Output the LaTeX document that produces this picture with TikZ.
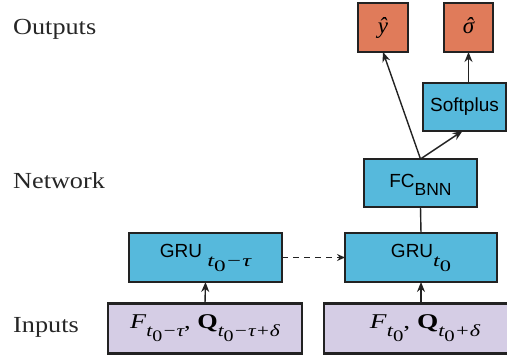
\documentclass[tikz,border=0pt]{standalone}
\usepackage{fontspec}
\setmainfont{Liberation Serif}
\setsansfont{Liberation Sans}
\usetikzlibrary{arrows.meta}
\newcommand{\mysub}[2]{\raisebox{-#1}{\fontsize{17}{17}\selectfont\rmfamily\itshape #2}}
\newcommand{\myzero}{\raisebox{-5pt}{\fontsize{16}{16}\selectfont\upshape 0}}
\newcommand{\sighat}{\ooalign{\hfil σ\hfil\cr\hfil\kern1.5pt ˆ\hfil\cr}}
\definecolor{bluebox}{HTML}{56B9DC}
\definecolor{orangebox}{HTML}{E07B5A}
\definecolor{lavbox}{HTML}{D5CDE5}
\definecolor{edge}{HTML}{222222}
\begin{document}
\begin{tikzpicture}[x=1pt,y=-1pt,
  box/.style={draw=edge,line width=2.6pt,inner sep=0pt,outer sep=0pt,text=black},
  netbox/.style={box,fill=bluebox,font=\sffamily\fontsize{19}{19}\selectfont},
  lowtext/.style={text height=14pt,text depth=14pt},
  outbox/.style={box,fill=orangebox,font=\fontsize{23}{23}\selectfont\itshape},
  inbox/.style={box,fill=lavbox,lowtext,font=\fontsize{21}{21}\selectfont},
  rowlabel/.style={anchor=base west,inner sep=0pt,text=black!85,font=\fontsize{23}{23}\selectfont},
  arr/.style={draw=edge,line width=1.4pt,-{Stealth[length=10pt,width=8pt]}},
  darr/.style={arr,dashed,dash pattern=on 6pt off 5pt,-{Stealth[length=8pt,width=7pt]}}]
\useasboundingbox (0,0) rectangle (507,358);
\node[rowlabel] (lout) at (13,35) {\scalebox{1.14}[1]{Outputs}};
\node[rowlabel] (lnet) at (13,189) {\scalebox{1.14}[1]{Network}};
\node[rowlabel] (lin) at (13,333) {\scalebox{1.14}[1]{Inputs}};
\node[inbox,minimum width=194pt,minimum height=50pt] (in1) at (205,328.5)
  {\scalebox{1.25}[1]{\textit{F}\mysub{8pt}{t\myzero−τ}, \textbf{Q}\mysub{8pt}{t\myzero−τ+δ}}};
\node[inbox,minimum width=202pt,minimum height=50pt] (in2) at (425,328.5)
  {\scalebox{1.3}[1]{\textit{F}\mysub{8pt}{t\myzero}, \textbf{Q}\mysub{8pt}{t\myzero+δ}}};
\node[netbox,lowtext,minimum width=153pt,minimum height=49pt] (g1) at (205.5,257.5) {GRU \mysub{9pt}{\scalebox{1.45}[1]{t\myzero−τ}}};
\node[netbox,lowtext,minimum width=152pt,minimum height=49pt] (g2) at (421,257.5) {GRU\mysub{9pt}{\scalebox{1.4}[1]{t\myzero}}};
\node[netbox,text height=14pt,text depth=4pt,minimum width=113pt,minimum height=48pt] (fc) at (420.5,183) {FC\raisebox{-0.38em}{\fontsize{17.5}{17.5}\selectfont BNN}};
\node[netbox,minimum width=83pt,minimum height=48pt] (sp) at (464.5,107) {Softplus};
\node[outbox,minimum width=50pt,minimum height=49pt] (yh) at (383,27.5) {ŷ};
\node[outbox,minimum width=49pt,minimum height=49pt] (sh) at (468.5,27.5) {\sighat};
\draw[arr] (in1.north) -- (g1.south);
\draw[arr] (g2.south |- in2.north) -- (g2.south);
\draw[darr] (g1.east) -- (g2.west);
\draw[line width=1.4pt,draw=edge] (g2.north) -- (fc.south);
\draw[arr] (fc.north) -- (yh.south);
\draw[arr] (fc.north) -- ([xshift=-2pt]sp.south);
\draw[arr] (sp.north -| sh.south) -- (sh.south);
\end{tikzpicture}
\end{document}
